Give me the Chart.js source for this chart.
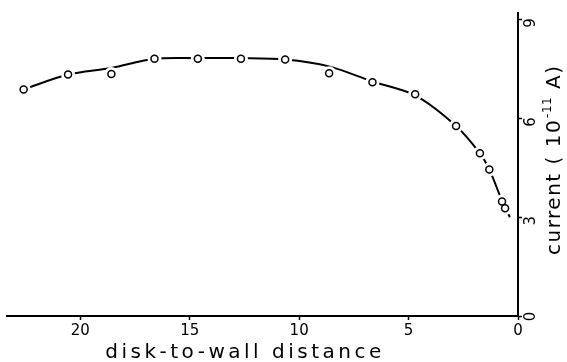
<!DOCTYPE html>
<html>
<head>
<meta charset="utf-8">
<script src="https://cdn.jsdelivr.net/npm/chart.js@4/dist/chart.umd.min.js"></script>
<style>
  html, body { margin: 0; padding: 0; background: #fff; }
  #wrap { width: 567px; height: 362px; }
</style>
</head>
<body>
<div id="wrap"><canvas id="chart" width="567" height="362"></canvas></div>
<script>
// measured points (distance, current)
const distance = [22.59, 20.56, 18.58, 16.61, 14.63, 12.66, 10.64, 8.63, 6.65, 4.70, 2.83, 1.74, 1.31, 0.73, 0.59];
const current  = [6.88, 7.33, 7.35, 7.81, 7.81, 7.81, 7.79, 7.37, 7.10, 6.73, 5.77, 4.94, 4.45, 3.48, 3.27];

// hand drawn smooth curve through the points
const curveDistance = [22.59, 20.56, 18.58, 16.61, 14.63, 12.66, 10.64, 8.63, 6.65, 4.70, 2.83, 1.74, 1.31, 0.66, 0.37];
const curveCurrent  = [6.88, 7.33, 7.53, 7.81, 7.83, 7.83, 7.79, 7.58, 7.12, 6.70, 5.77, 4.94, 4.45, 3.38, 3.00];

const xTicks = [0, 5, 10, 15, 20];
const yTicks = [0, 3, 6, 9];
const xTitle = 'disk-to-wall distance';
const yTitle = ['current ( 10', '-11', ' A)'];

const points = distance.map((d, i) => ({ x: d, y: current[i] }));
const curve = curveDistance.map((d, i) => ({ x: d, y: curveCurrent[i] }));

/**
 * Draws the axis titles and the rotated y tick labels
 */
const axisText = {
    id: 'axisText',
    afterDraw(chart) {
        const { ctx, scales: { x, y } } = chart;
        ctx.save();
        ctx.fillStyle = '#000';

        // x title
        ctx.letterSpacing = '3.5px';
        ctx.font = '20px "DejaVu Sans"';
        ctx.textAlign = 'center';
        ctx.textBaseline = 'alphabetic';
        ctx.fillText(xTitle, x.left + 238, 358);

        // y tick labels, turned like the title
        ctx.letterSpacing = '1px';
        ctx.font = '15px "DejaVu Sans"';
        ctx.textBaseline = 'middle';
        yTicks.forEach(v => {
            ctx.save();
            ctx.translate(y.left + 13, y.getPixelForValue(v) + (v === 0 ? 0 : 3));
            ctx.rotate(-Math.PI / 2);
            ctx.fillText(String(v), 0, 0);
            ctx.restore();
        });

        // y title
        ctx.translate(y.left + 37, 255);
        ctx.rotate(-Math.PI / 2);
        ctx.textAlign = 'left';
        ctx.letterSpacing = '1.5px';
        ctx.font = '20px "DejaVu Sans"';
        ctx.fillText(yTitle[0], 0, 0);
        let w = ctx.measureText(yTitle[0]).width;
        ctx.font = '12px "DejaVu Sans"';
        ctx.letterSpacing = '0.5px';
        ctx.fillText(yTitle[1], w + 1, -7);
        w += ctx.measureText(yTitle[1]).width + 1;
        ctx.font = '20px "DejaVu Sans"';
        ctx.letterSpacing = '1.5px';
        ctx.fillText(yTitle[2], w, 0);
        ctx.restore();
    }
};

const ctx = document.getElementById('chart').getContext('2d');
new Chart(ctx, {
    type: 'scatter',
    data: {
        datasets: [
            {
                data: points,
                order: 1,
                pointRadius: 3.5,
                pointBorderWidth: 1.5,
                pointBorderColor: '#000',
                pointBackgroundColor: 'rgba(0,0,0,0)',
                clip: false
            },
            {
                // white halo so the curve stops short of each circle
                data: points,
                order: 2,
                pointRadius: 7,
                pointBorderWidth: 0,
                pointBackgroundColor: '#fff',
                clip: false
            },
            {
                data: curve,
                order: 3,
                showLine: true,
                tension: 0.3,
                borderColor: '#000',
                borderWidth: 2,
                pointRadius: 0,
                clip: false
            }
        ]
    },
    options: {
        responsive: false,
        animation: false,
        layout: { padding: { left: 7, top: 13, right: 0, bottom: 0 } },
        plugins: {
            legend: { display: false },
            tooltip: { enabled: false }
        },
        scales: {
            x: {
                type: 'linear',
                reverse: true,
                min: 0,
                max: 23.35,
                afterFit: s => { s.height = 46; },
                afterBuildTicks: s => { s.ticks = xTicks.map(v => ({ value: v })); },
                border: { display: true, color: '#000', width: 2 },
                grid: { drawOnChartArea: false, color: '#000', tickLength: 4, tickWidth: 1.5 },
                ticks: {
                    color: '#000',
                    padding: 2,
                    font: { family: 'DejaVu Sans', size: 15 },
                    maxRotation: 0
                }
            },
            y: {
                type: 'linear',
                position: 'right',
                min: 0,
                max: 9.2,
                afterFit: s => { s.width = 49; },
                afterBuildTicks: s => { s.ticks = yTicks.map(v => ({ value: v })); },
                border: { display: true, color: '#000', width: 2 },
                grid: { drawOnChartArea: false, color: '#000', tickLength: 4, tickWidth: 1.5 },
                ticks: { display: false }
            }
        }
    },
    plugins: [axisText]
});
</script>
</body>
</html>
